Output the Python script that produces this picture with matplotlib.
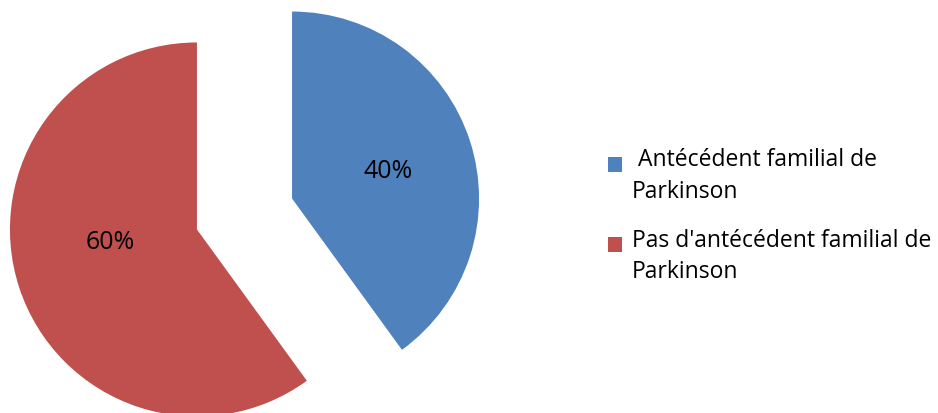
import matplotlib.pyplot as plt
from matplotlib.legend_handler import HandlerPatch
from matplotlib.patches import Rectangle

# ---------------------------------------------------------
# Data
# ---------------------------------------------------------
labels = [" Antécédent familial de\nParkinson",
          "Pas d'antécédent familial de\nParkinson"]
values = [40, 60]
colors = ["#4F81BD", "#C0504D"]

plt.rcParams["font.family"] = ["Open Sans", "DejaVu Sans"]

LEG_FS = 16.5


# square marker lined up with the first text line, not the middle
def top_square(legend, orig_handle, xdescent, ydescent, width, height, fontsize):
    return Rectangle((-xdescent, -ydescent + 0.5 * fontsize), width, height)


fig = plt.figure(figsize=(9.38, 4.14), dpi=100)
ax = fig.add_axes([0, 0, 1, 1])

wedges, texts, autotexts = ax.pie(
    values,
    colors=colors,
    startangle=90,
    counterclock=False,
    radius=187,
    center=(244.5, 199),
    explode=[50, 50],
    autopct="%d%%",
    pctdistance=0.52,
    textprops=dict(fontsize=18, color="black"),
    wedgeprops=dict(linewidth=0),
)

# nudge the percentage labels to where the original puts them
autotexts[0].set_position((388, 242))
autotexts[1].set_position((110, 171))

# pie resets the limits, so set pixel-like limits afterwards
ax.set_xlim(0, 938)
ax.set_ylim(0, 414)
ax.set_aspect("equal")
ax.axis("off")

leg = ax.legend(
    wedges, labels,
    loc="center left",
    bbox_to_anchor=(0.6265, 0.478),
    frameon=False,
    fontsize=LEG_FS,
    handlelength=0.62,
    handleheight=0.62,
    handletextpad=0.4,
    labelspacing=1.1,
    handler_map={w: HandlerPatch(patch_func=top_square) for w in wedges},
)
for t in leg.get_texts():
    t.set_linespacing(1.4)

fig.savefig("out.png", dpi=100)
plt.close()
